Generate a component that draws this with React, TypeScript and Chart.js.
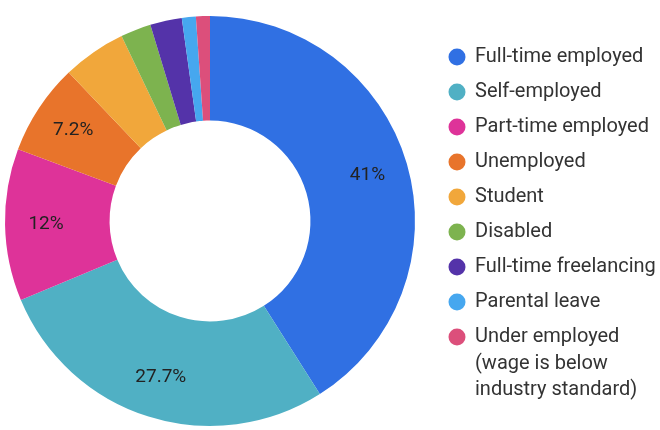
import React, { useEffect, useRef } from "react";
import { Chart, registerables } from "chart.js";

Chart.register(...registerables);

const categories = [
  "Full-time employed",
  "Self-employed",
  "Part-time employed",
  "Unemployed",
  "Student",
  "Disabled",
  "Full-time freelancing",
  "Parental leave",
  "Under employed (wage is below industry standard)",
];
const values = [41, 27.7, 12, 7.2, 5.0, 2.4, 2.5, 1.1, 1.1];
const valueLabels = ["41%", "27.7%", "12%", "7.2%", "", "", "", "", ""];
const colors = [
  "#3070e3",
  "#50b0c4",
  "#de3399",
  "#e8742b",
  "#f1a73b",
  "#7db34f",
  "#5433a9",
  "#46a7ef",
  "#dc4f7b",
];

const FONT = "Roboto, 'Noto Sans', sans-serif";

const sliceLabelPlugin = {
  id: "sliceLabels",
  afterDatasetsDraw(chart: any) {
    const ctx = chart.ctx;
    const meta = chart.getDatasetMeta(0);
    ctx.save();
    ctx.font = `19px ${FONT}`;
    ctx.fillStyle = "#222";
    ctx.textAlign = "center";
    ctx.textBaseline = "middle";
    meta.data.forEach((arc: any, i: number) => {
      const txt = valueLabels[i];
      if (!txt) return;
      const p = arc.getProps(["x", "y", "startAngle", "endAngle", "outerRadius", "innerRadius"], true);
      const mid = (p.startAngle + p.endAngle) / 2;
      const r = p.outerRadius * 0.8;
      ctx.fillText(txt, p.x + Math.cos(mid) * r, p.y + Math.sin(mid) * r);
    });
    ctx.restore();
  },
};

const legendPlugin = {
  id: "sideLegend",
  afterDraw(chart: any) {
    const ctx = chart.ctx;
    const labels: string[] = chart.data.labels;
    const bg: string[] = chart.data.datasets[0].backgroundColor;
    ctx.save();
    ctx.font = `20px ${FONT}`;
    ctx.textBaseline = "middle";
    ctx.textAlign = "left";
    const dotX = 457;
    const textX = 475;
    const maxW = 190;
    let y = 57;
    labels.forEach((label, i) => {
      ctx.fillStyle = bg[i];
      ctx.beginPath();
      ctx.arc(dotX, y, 8.5, 0, Math.PI * 2);
      ctx.fill();
      const words = label.split(" ");
      const lines: string[] = [];
      let cur = "";
      words.forEach((w) => {
        const test = cur ? cur + " " + w : w;
        if (ctx.measureText(test).width > maxW && cur) {
          lines.push(cur);
          cur = w;
        } else cur = test;
      });
      if (cur) lines.push(cur);
      ctx.fillStyle = "#333";
      lines.forEach((ln, k) => {
        ctx.fillText(ln, textX, y + k * 26.5);
      });
      y += 35 + (lines.length - 1) * 26.5;
    });
    ctx.restore();
  },
};

export default function App() {
  const ref = useRef<HTMLCanvasElement>(null);
  useEffect(() => {
    if (!ref.current) return;
    const chart = new Chart(ref.current, {
      type: "doughnut",
      data: {
        labels: categories,
        datasets: [
          {
            data: values,
            backgroundColor: colors,
            borderWidth: 0,
          },
        ],
      },
      options: {
        animation: false,
        responsive: false,
        cutout: "49%",
        layout: { padding: { left: 5, top: 16, right: 245, bottom: 4 } },
        plugins: {
          legend: { display: false },
          tooltip: { enabled: false },
        },
      },
      plugins: [sliceLabelPlugin, legendPlugin],
    });
    return () => chart.destroy();
  }, []);
  return (
    <div style={{ position: "absolute", left: 0, top: 0, width: 660, height: 430, background: "#fff" }}>
      <canvas ref={ref} width={660} height={430} />
    </div>
  );
}
